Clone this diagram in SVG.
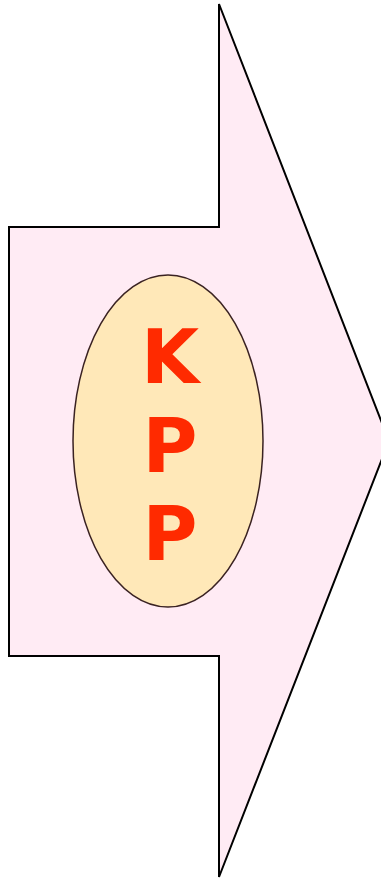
<svg xmlns="http://www.w3.org/2000/svg" width="381" height="879" viewBox="0 0 381 879">
<style>
.lbl{font-family:"DejaVu Sans",sans-serif;font-weight:bold;font-size:75px;fill:#FF2A00;text-anchor:middle}
</style>
<rect width="381" height="879" fill="#ffffff"/>
<g id="arrow">
<polygon points="9,227 219,227 219,4 389,441 219,877 219,656 9,656" fill="#FFEBF4" stroke="#000" stroke-width="2"/>
</g>
<g id="kpp">
<ellipse cx="168" cy="441" rx="95" ry="166" fill="#FFE8B8" stroke="#3A2222" stroke-width="1.5"/>
<text class="lbl" x="170" y="383">K</text>
<text class="lbl" x="170" y="472">P</text>
<text class="lbl" x="170" y="560">P</text>
</g>
</svg>
